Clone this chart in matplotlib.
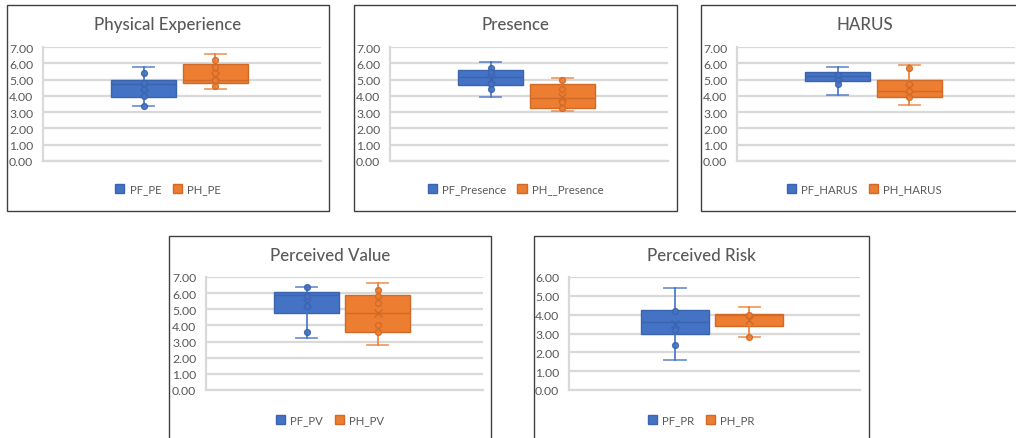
import matplotlib
matplotlib.use("Agg")
import matplotlib.pyplot as plt
from matplotlib.patches import Rectangle, Patch

# chart data
titles = ["Physical Experience", "Presence", "HARUS", "Perceived Value", "Perceived Risk"]
pf_labels = ["PF_PE", "PF_Presence", "PF_HARUS", "PF_PV", "PF_PR"]
ph_labels = ["PH_PE", "PH__Presence", "PH_HARUS", "PH_PV", "PH_PR"]
y_max = [7, 7, 7, 7, 6]

pf_whislo = [3.4, 3.95, 4.05, 3.2, 1.6]
pf_q1 = [3.9, 4.65, 4.9, 4.8, 3.0]
pf_med = [4.7, 5.15, 5.25, 5.9, 3.6]
pf_q3 = [5.0, 5.6, 5.45, 6.1, 4.25]
pf_whishi = [5.8, 6.1, 5.8, 6.4, 5.4]
pf_mean = [4.55, 5.05, 5.2, 5.4, 3.5]
pf_points = [[5.4, 4.8, 4.4, 4.0, 3.4], [5.7, 5.45, 4.75, 4.4], [5.3, 5.0, 4.7],
             [6.4, 5.8, 5.2, 3.6], [4.2, 3.2, 2.4]]

ph_whislo = [4.4, 3.05, 3.45, 2.8, 2.8]
ph_q1 = [4.8, 3.25, 3.9, 3.6, 3.4]
ph_med = [5.0, 3.85, 4.3, 4.8, 4.0]
ph_q3 = [5.95, 4.7, 4.95, 5.9, 4.05]
ph_whishi = [6.6, 5.1, 5.9, 6.6, 4.4]
ph_mean = [5.25, 3.95, 4.5, 4.8, 3.7]
ph_points = [[6.2, 5.8, 5.4, 5.0, 4.6], [5.0, 4.45, 3.65, 3.25], [5.7, 4.7, 4.3, 3.9],
             [6.2, 5.8, 5.4, 4.0, 3.6], [4.0, 2.8]]

# layout in pixels: chart frame (x0, y0, x1, y1) and plot area (x0, y0, x1, y1)
W, H = 1016, 439
frames = [(7, 6, 329, 212), (354, 6, 677, 212), (701, 6, 1030, 212),
          (169, 237, 491, 445), (534, 237, 869, 445)]
plots = [(43, 48, 321, 162), (390, 48, 668, 162), (737, 48, 1015, 162),
         (206, 278, 483, 391), (569, 278, 860, 391)]

BLUE = "#4472C4"
ORANGE = "#ED7D31"
GRID = "#D9D9D9"
TEXT = "#595959"

fig = plt.figure(figsize=(W / 100, H / 100), dpi=100)


def draw_series(ax, pos, color, edge, lo, q1, med, q3, hi, mean, pts):
    stats = [{"whislo": lo, "q1": q1, "med": med, "q3": q3, "whishi": hi,
              "mean": mean, "fliers": []}]
    ax.bxp(stats, positions=[pos], widths=0.234, patch_artist=True,
           showmeans=True, showfliers=False, manage_ticks=False, capwidths=0.075,
           boxprops=dict(facecolor=color, edgecolor=edge, linewidth=1.0),
           medianprops=dict(color=edge, linewidth=1.0),
           whiskerprops=dict(color=color, linewidth=1.2),
           capprops=dict(color=color, linewidth=1.3, alpha=0.75),
           meanprops=dict(marker="x", markeredgecolor=edge, markersize=6,
                          markeredgewidth=1.0))
    ax.plot([pos] * len(pts), pts, linestyle="none", marker="o", markersize=4.2,
            markerfacecolor=color, markeredgecolor=edge, markeredgewidth=1.0,
            alpha=0.9, zorder=4)


for i in range(5):
    fx0, fy0, fx1, fy1 = frames[i]
    fig.add_artist(Rectangle((fx0 / W, 1 - fy1 / H), (fx1 - fx0) / W, (fy1 - fy0) / H,
                             transform=fig.transFigure, fill=False,
                             edgecolor="#404040", linewidth=1.0))

    px0, py0, px1, py1 = plots[i]
    ax = fig.add_axes([px0 / W, 1 - py1 / H, (px1 - px0) / W, (py1 - py0) / H])
    ax.set_xlim(0, 1)
    ax.set_ylim(0, y_max[i])
    ax.set_yticks(range(0, y_max[i] + 1))
    ax.set_yticklabels([f"{v:.2f}" for v in range(0, y_max[i] + 1)])
    ax.set_xticks([])
    ax.yaxis.grid(True, color=GRID, linewidth=1.6)
    ax.set_axisbelow(True)
    for s in ["top", "right"]:
        ax.spines[s].set_visible(False)
    for s in ["left", "bottom"]:
        ax.spines[s].set_color(GRID)
        ax.spines[s].set_linewidth(1.6)
    ax.tick_params(axis="y", length=0, pad=7, labelsize=8.8, labelcolor=TEXT)
    for lab in ax.get_yticklabels():
        lab.set_fontfamily("Lato")
    ax.patch.set_alpha(0)

    draw_series(ax, 0.363, BLUE, "#3A64AE", pf_whislo[i], pf_q1[i], pf_med[i],
                pf_q3[i], pf_whishi[i], pf_mean[i], pf_points[i])
    draw_series(ax, 0.620, ORANGE, "#D06A28", ph_whislo[i], ph_q1[i], ph_med[i],
                ph_q3[i], ph_whishi[i], ph_mean[i], ph_points[i])

    cx = (fx0 + fx1) / 2 if i != 2 else (fx0 + 1016) / 2 + 6
    fig.text(cx / W, 1 - (fy0 + 19) / H, titles[i], ha="center", va="center",
             fontsize=12.2, color=TEXT, family="Lato", weight="medium")

    handles = [Patch(facecolor=BLUE, edgecolor="#3A64AE", label=pf_labels[i]),
               Patch(facecolor=ORANGE, edgecolor="#D06A28", label=ph_labels[i])]
    fig.legend(handles=handles, loc="center", bbox_to_anchor=(cx / W, 1 - (fy0 + 184) / H),
               ncol=2, frameon=False, handlelength=0.8, handleheight=0.8,
               handletextpad=0.45, columnspacing=1.0, prop={"family": "Lato", "size": 8.2},
               labelcolor=TEXT)

fig.savefig("out.png", dpi=100, facecolor="white")
